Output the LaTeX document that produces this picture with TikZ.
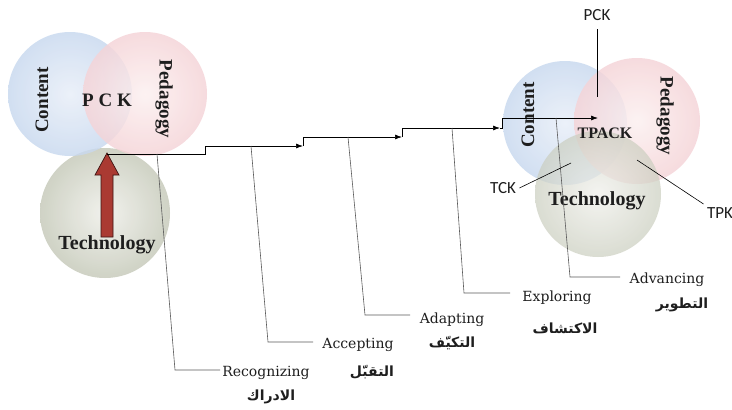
\documentclass[tikz,border=0pt]{standalone}
\usepackage{fontspec}
\setmainfont{Liberation Serif}
\newfontfamily\labfont{DejaVu Serif}
\newfontfamily\sanslab{Carlito}
\newfontfamily\arabicfont[Script=Arabic]{DejaVu Sans}
\TeXXeTstate=1
\usetikzlibrary{arrows.meta}
\definecolor{cblue}{RGB}{160,190,228}
\definecolor{cbluemid}{RGB}{196,214,238}
\definecolor{cbluein}{RGB}{232,238,248}
\definecolor{cpink}{RGB}{234,176,182}
\definecolor{cpinkmid}{RGB}{244,208,212}
\definecolor{cpinkin}{RGB}{252,240,240}
\definecolor{cgreen}{RGB}{150,158,134}
\definecolor{cgreenmid}{RGB}{198,202,186}
\definecolor{cgreenin}{RGB}{240,240,235}
\definecolor{redarrow}{RGB}{170,58,50}
\definecolor{redline}{RGB}{60,20,18}
\definecolor{txt}{RGB}{30,30,30}
\definecolor{lgray}{RGB}{90,90,90}
\pgfdeclareradialshading{blueball}{\pgfpoint{0bp}{0bp}}{color(0bp)=(cbluein); color(28bp)=(cbluemid); color(50bp)=(cblue)}
\pgfdeclareradialshading{pinkball}{\pgfpoint{0bp}{0bp}}{color(0bp)=(cpinkin); color(28bp)=(cpinkmid); color(50bp)=(cpink)}
\pgfdeclareradialshading{greenball}{\pgfpoint{0bp}{0bp}}{color(0bp)=(cgreenin); color(28bp)=(cgreenmid); color(50bp)=(cgreen)}
\tikzset{
  venn/.style={fill opacity=0.82},
  ctext/.style={font=\bfseries\fontsize{19}{21}\selectfont, text=txt},
  stair/.style={draw=black, line width=0.7pt, -{Latex[length=7pt,width=5pt]}},
  leader/.style={draw=lgray, line width=0.6pt},
  lab/.style={font=\labfont\fontsize{14}{16}\selectfont, text=txt},
  arlab/.style={font=\arabicfont\bfseries\fontsize{14}{16}\selectfont, text=txt},
  klab/.style={font=\sanslab\fontsize{17}{19}\selectfont, text=txt},
  kline/.style={draw=black, line width=0.6pt}
}
\begin{document}
\begin{tikzpicture}[x=1pt,y=-1pt]
\useasboundingbox[fill=white] (0,0) rectangle (732,410);
% ---------- left Venn ----------
\shade[venn, fill opacity=0.9, shading=greenball] (105,213) circle[radius=65pt];
\shade[venn, shading=blueball] (70,94) circle[radius=62pt];
\shade[venn, shading=pinkball] (145,94) circle[radius=62pt];
\node[ctext, rotate=90] (lcontent) at (42,100) {Content};
\node[ctext, rotate=-90] (lped) at (164,99) {Pedagogy};
\node[ctext] (lpck) at (107,100) {P C K};
\node[ctext, font=\bfseries\fontsize{20}{22}\selectfont] (ltech) at (107,245) {Technology};
\fill[redarrow, draw=redline, line width=0.7pt]
  (107,153) -- (119,175) -- (113,175) -- (113,237) -- (101,237) -- (101,175) -- (95,175) -- cycle;
% ---------- right Venn ----------
\shade[venn, shading=blueball] (565,123) circle[radius=62pt];
\shade[venn, shading=pinkball] (637,121) circle[radius=63pt];
\shade[venn, shading=greenball, fill opacity=0.7] (598,194) circle[radius=63pt];
\node[ctext, rotate=90] (rcontent) at (528,115) {Content};
\node[ctext, rotate=-90] (rped) at (665,116) {Pedagogy};
\node[ctext, font=\bfseries\fontsize{16}{18}\selectfont] (tpack) at (605,133) {TPACK};
\node[ctext, font=\bfseries\fontsize{20}{22}\selectfont] (rtech) at (597,201) {Technology};
% ---------- staircase ----------
\coordinate (s0) at (107,154);
\coordinate (s1) at (303,146);
\coordinate (s2) at (402,137);
\coordinate (s3) at (500,128);
\coordinate (s4) at (598,118);
\draw[stair] (s0) -- (205,154) -- (205,146) -- (s1);
\draw[stair] (s1) -- (303,137) -- (s2);
\draw[stair] (s2) -- (402,128) -- (s3);
\draw[stair] (s3) -- (502,128) -- (502,118) -- (s4);
% ---------- leaders and labels ----------
\node[lab] (rec) at (266,373) {Recognizing};
\node[arlab] (recar) at (271,397) {\beginR الادراك\endR};
\node[lab] (acc) at (358,345) {Accepting};
\node[arlab] (accar) at (372,372) {\beginR التقبّل\endR};
\node[lab] (ada) at (452,320) {Adapting};
\node[arlab] (adaar) at (452,343) {\beginR التكيّف\endR};
\node[lab] (exp) at (557,298) {Exploring};
\node[arlab] (expar) at (565,328) {\beginR الاكتشاف\endR};
\node[lab] (adv) at (667,280) {Advancing};
\node[arlab] (advar) at (682,305) {\beginR التطوير\endR};
\coordinate (l1) at (157,154);
\coordinate (l2) at (251,146);
\coordinate (l3) at (348,137);
\coordinate (l4) at (452,128);
\coordinate (l5) at (556,118);
\draw[leader] (l1) -- (175,370) -- (220,370);
\draw[leader] (l2) -- (268,342) -- (313,342);
\draw[leader] (l3) -- (365,315) -- (410,315);
\draw[leader] (l4) -- (464,293) -- (510,293);
\draw[leader] (l5) -- (570,277) -- (620,277);
% ---------- right labels ----------
\node[klab] (pck) at (597,15) {PCK};
\node[klab] (tck) at (503,188) {TCK};
\node[klab] (tpk) at (720,213) {TPK};
\coordinate (pckend) at (597,97);
\coordinate (tckend) at (571,163);
\coordinate (tpkend) at (637,160);
\draw[kline] (pck.south) ++(0,5) -- (pckend);
\draw[kline] (tck.east) -- (tckend);
\draw[kline] (tpk.north west) -- (tpkend);
\end{tikzpicture}
\end{document}
